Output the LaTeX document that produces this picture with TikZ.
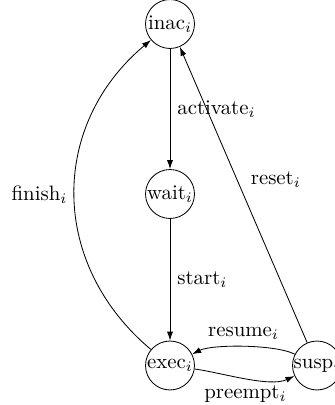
\documentclass[tikz,border=0pt]{standalone}
\usetikzlibrary{arrows.meta}
\begin{document}
\begin{tikzpicture}[x=0.48pt,y=-0.48pt,
  state/.style={draw,circle,inner sep=0pt,minimum size=23.5pt},
  trans/.style={-{Latex[length=4.3pt,width=2.9pt]}},
  every node/.append style={font=\normalsize}]
\useasboundingbox (0,0) rectangle (334,405);
\node[state] (inac) at (170,24) {inac$_i$};
\node[state] (wait) at (170,194) {wait$_i$};
\node[state] (exec) at (170,365.5) {exec$_i$};
\node[state] (susp) at (317,365.5) {susp$_i$};
\draw[trans] (inac) -- node[midway,right] {activate$_i$} (wait);
\draw[trans] (wait) -- node[midway,right] {start$_i$} (exec);
\draw[trans] (exec) to[bend left=50,looseness=1.1] node[midway,left] {finish$_i$} (inac);
\draw[trans] (susp) -- node[midway,above right] {reset$_i$} (inac);
\draw[trans] (susp) to[bend right=27,looseness=0.55] node[midway,above] {resume$_i$} (exec);
\draw[trans] (exec) to[out=-8,in=-155,looseness=0.7] node[midway,below] {preempt$_i$} (susp);
\end{tikzpicture}
\end{document}
